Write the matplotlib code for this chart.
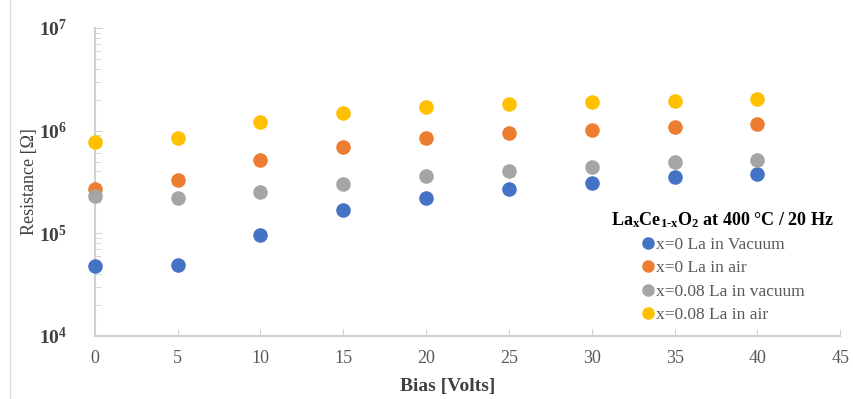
import numpy as np
import matplotlib
matplotlib.use("Agg")
import matplotlib.pyplot as plt
from matplotlib.lines import Line2D

plt.rcParams.update({
    "font.family": ["Liberation Serif", "DejaVu Serif"],
    "mathtext.fontset": "custom",
    "mathtext.rm": "Liberation Serif",
    "mathtext.bf": "Liberation Serif:bold",
    "mathtext.it": "Liberation Serif:italic",
})

bias = [0, 5, 10, 15, 20, 25, 30, 35, 40]
r_x0_vac = [4.8e4, 4.9e4, 9.6e4, 1.7e5, 2.2e5, 2.7e5, 3.1e5, 3.5e5, 3.8e5]
r_x0_air = [2.7e5, 3.3e5, 5.2e5, 7.0e5, 8.5e5, 9.5e5, 1.02e6, 1.09e6, 1.17e6]
r_x08_vac = [2.3e5, 2.2e5, 2.5e5, 3.05e5, 3.6e5, 4.05e5, 4.45e5, 4.9e5, 5.2e5]
r_x08_air = [7.8e5, 8.4e5, 1.2e6, 1.5e6, 1.7e6, 1.8e6, 1.9e6, 1.96e6, 2.05e6]

series = [
    ("x=0 La in Vacuum", r_x0_vac, "#4472C4"),
    ("x=0 La in air", r_x0_air, "#ED7D31"),
    ("x=0.08 La in vacuum", r_x08_vac, "#A5A5A5"),
    ("x=0.08 La in air", r_x08_air, "#FFC000"),
]

fig = plt.figure(figsize=(8.54, 3.99), dpi=100)
ax = fig.add_axes([0.111, 0.158, 0.873, 0.772])

for label, vals, col in series:
    ax.scatter(bias, vals, s=110, color=col, label=label, zorder=3, linewidths=0, clip_on=False)

ax.set_yscale("log")
ax.set_ylim(1e4, 1e7)
ax.set_xlim(0, 45)
ax.set_xticks(range(0, 50, 5))
ax.set_yticks([1e4, 1e5, 1e6, 1e7])
ax.set_yticklabels([r"$\mathbf{10^{4}}$", r"$\mathbf{10^{5}}$", r"$\mathbf{10^{6}}$", r"$\mathbf{10^{7}}$"])

for s in ["top", "right"]:
    ax.spines[s].set_visible(False)
for s in ["left", "bottom"]:
    ax.spines[s].set_color("#D0D0D0")
    ax.spines[s].set_linewidth(1.5)
ax.tick_params(axis="x", direction="in", length=5, color="#D0D0D0", labelcolor="#595959",
               labelsize=13, pad=10)
ax.tick_params(axis="y", which="major", direction="in", length=5, color="#D0D0D0",
               labelcolor="#404040", labelsize=14, pad=20)
ax.tick_params(axis="y", which="minor", direction="in", length=4, color="#D0D0D0")

ax.set_xlabel("Bias [Volts]", fontsize=14, color="#404040", fontweight="bold")
ax.xaxis.set_label_coords(0.474, -0.138)
ax.set_ylabel("Resistance [Ω]", fontsize=13, color="#404040")
ax.yaxis.set_label_coords(-0.076, 0.5)

handles = [Line2D([], [], marker="o", ls="", color=c, markersize=8, label=l) for l, _, c in series]
leg = ax.legend(handles=handles, loc="upper left", bbox_to_anchor=(0.672, 0.46),
                frameon=False, fontsize=12.5, handletextpad=0.1, handlelength=0.8,
                labelspacing=0.42,
                title=r"La$_{\mathbf{x}}$Ce$_{\mathbf{1\text{-}x}}$O$_{\mathbf{2}}$ at 400 °C / 20 Hz",
                title_fontproperties={"size": 13, "weight": "bold"})
for t in leg.get_texts():
    t.set_color("#595959")

fig.add_artist(Line2D([0.012, 0.012], [0.0, 1.0], color="#D9D9D9", lw=1))

fig.savefig("out.png", dpi=100)
